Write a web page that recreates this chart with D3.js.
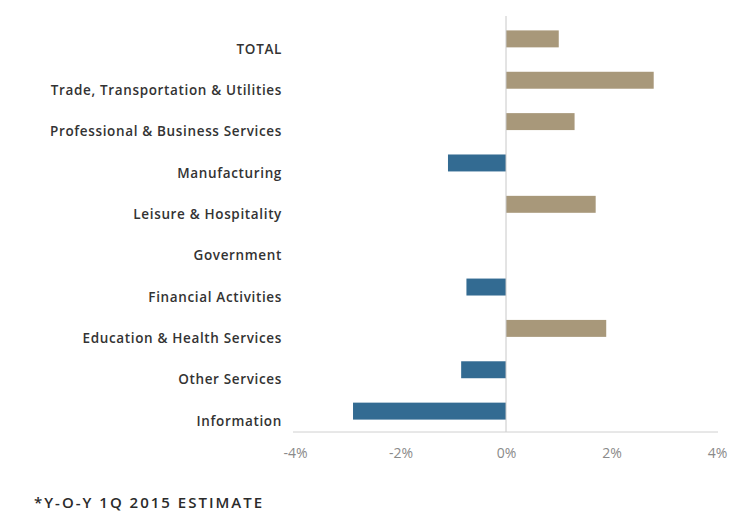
<!DOCTYPE html>
<html>
<head>
<meta charset="utf-8">
<script src="https://cdn.jsdelivr.net/npm/d3@7"></script>
<style>
  html, body { margin: 0; padding: 0; background: #fff; }
  svg { display: block; }
</style>
</head>
<body>
<svg id="chart" width="743" height="514"></svg>
<script>
// Employment change by industry, year over year
const categories = [
  "TOTAL",
  "Trade, Transportation & Utilities",
  "Professional & Business Services",
  "Manufacturing",
  "Leisure & Hospitality",
  "Government",
  "Financial Activities",
  "Education & Health Services",
  "Other Services",
  "Information"
];
const values = [1.0, 2.8, 1.3, -1.1, 1.7, 0.0, -0.75, 1.9, -0.85, -2.9];
const tickValues = [-4, -2, 0, 2, 4];
const tickLabels = ["-4%", "-2%", "0%", "2%", "4%"];
const footnote = "*Y-O-Y 1Q 2015 ESTIMATE";

const posColor = "#a8987a";
const negColor = "#336b92";

const svg = d3.select("#chart");

const x = d3.scaleLinear().domain([-4, 4]).range([295, 717]);
const y = d3.scaleBand().domain(categories).range([18, 432]).paddingInner(0.59).paddingOuter(0.3);

// bars
svg.append("g").selectAll("rect")
  .data(categories.map((c, i) => ({ c, v: values[i] })))
  .join("rect")
  .attr("x", d => x(Math.min(0, d.v)))
  .attr("width", d => Math.abs(x(d.v) - x(0)))
  .attr("y", d => y(d.c))
  .attr("height", y.bandwidth())
  .attr("fill", d => d.v >= 0 ? posColor : negColor);

// zero line
svg.append("line")
  .attr("x1", x(0)).attr("x2", x(0))
  .attr("y1", 16).attr("y2", 432)
  .attr("stroke", "#c8c8c8").attr("stroke-width", 1);

// bottom axis
const xAxis = d3.axisBottom(x)
  .tickValues(tickValues)
  .tickFormat((d, i) => tickLabels[i])
  .tickSize(0)
  .tickPadding(16);
const gx = svg.append("g").attr("transform", "translate(0,432)").call(xAxis);
gx.select(".domain").attr("stroke", "#d0d0d0").attr("d", `M${x(-4) - 2},0H${x(4) + 1}`);
gx.selectAll("text")
  .attr("fill", "#8a8a8a")
  .style("font-family", "'Open Sans', Lato, sans-serif")
  .style("font-size", "14px")
  .style("font-weight", "400");

// category labels
svg.append("g").selectAll("text")
  .data(categories)
  .join("text")
  .attr("x", 282)
  .attr("y", d => y(d) + y.bandwidth() / 2 + 10)
  .attr("dy", "0.35em")
  .attr("text-anchor", "end")
  .attr("fill", "#333")
  .style("font-family", "'Open Sans', Lato, sans-serif")
  .style("font-size", "13.5px")
  .style("font-weight", "600")
  .style("letter-spacing", "0.65px")
  .text(d => d);

// footnote
svg.append("text")
  .attr("x", 34)
  .attr("y", 503)
  .attr("dy", "0.35em")
  .attr("fill", "#2b2b2b")
  .style("font-family", "'Open Sans', Lato, sans-serif")
  .style("font-size", "15px")
  .style("font-weight", "600")
  .style("letter-spacing", "2px")
  .text(footnote);
</script>
</body>
</html>
